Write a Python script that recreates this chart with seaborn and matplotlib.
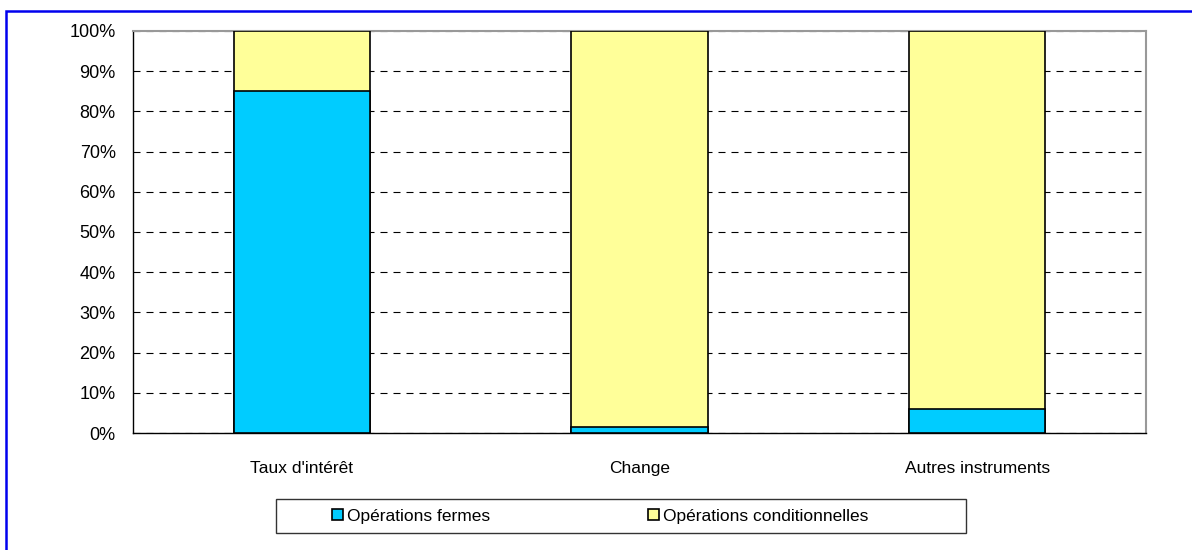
import pandas as pd
import seaborn as sns
import matplotlib.pyplot as plt
from matplotlib.patches import Patch, Rectangle
from matplotlib.ticker import PercentFormatter, MultipleLocator, FixedLocator

# Données (parts en %)
categories = ["Taux d'intérêt", "Change", "Autres instruments"]
fermes = [85, 1.5, 6]
conditionnelles = [15, 98.5, 94]
series = ["Opérations fermes", "Opérations conditionnelles"]
couleurs = ["#00CCFF", "#FFFF99"]

df = pd.DataFrame({"categorie": categories, "fermes": fermes, "conditionnelles": conditionnelles})
df["total"] = df["fermes"] + df["conditionnelles"]

sns.set_style("white")
plt.rcParams['font.family'] = ['Liberation Sans', 'DejaVu Sans']

fig = plt.figure(figsize=(11.92, 5.5), dpi=100)
ax = fig.add_axes([133 / 1192, 1 - 433 / 550, (1146 - 133) / 1192, (433 - 31) / 550])

# Barres empilées : total (jaune) puis la part ferme (bleu) par-dessus
sns.barplot(x="categorie", y="total", data=df, color=couleurs[1], width=0.403,
            edgecolor="black", linewidth=1.2, saturation=1, ax=ax, zorder=3)
sns.barplot(x="categorie", y="fermes", data=df, color=couleurs[0], width=0.403,
            edgecolor="black", linewidth=1.2, saturation=1, ax=ax, zorder=4)

ax.set_xlim(-0.5, 2.5)
ax.set_ylim(0, 100)
ax.set_xlabel("")
ax.set_ylabel("")

# Axe Y
ax.yaxis.set_major_locator(MultipleLocator(10))
ax.yaxis.set_major_formatter(PercentFormatter(decimals=0))
ax.tick_params(axis="y", direction="inout", length=8, width=0.8, color="black",
               labelsize=13, pad=8.5, labelcolor="black")
ax.grid(axis="y", color="black", linestyle=(0, (6.3, 5.4)), linewidth=0.8, zorder=1)

# Axe X : étiquettes au centre, petites graduations aux limites
ax.tick_params(axis="x", which="major", length=0, labelsize=12.5, pad=20, labelcolor="black")
ax.xaxis.set_minor_locator(FixedLocator([-0.5, 0.5, 1.5, 2.5]))
ax.tick_params(axis="x", which="minor", direction="inout", length=9, width=0.8, color="black")

for s in ["left", "bottom"]:
    ax.spines[s].set_color("black")
    ax.spines[s].set_linewidth(1)
for s in ["top", "right"]:
    ax.spines[s].set_visible(True)
    ax.spines[s].set_color("#999999")
    ax.spines[s].set_linewidth(1.5)
ax.set_axisbelow(True)

# Légende
handles = [Patch(facecolor=c, edgecolor="black", linewidth=1.2) for c in couleurs]
leg = fig.legend(handles, series, loc="center", bbox_to_anchor=(600 / 1192, 1 - 516 / 550),
                 ncol=2, frameon=False, fontsize=12.5, handlelength=0.63, handleheight=0.63,
                 handletextpad=0.23, columnspacing=9.1, labelcolor="black")
fig.add_artist(Rectangle((276 / 1192, 1 - 533 / 550), (966 - 276) / 1192, 34 / 550,
                         transform=fig.transFigure, fill=False, edgecolor="#333333", linewidth=1))

# Cadre bleu
fig.add_artist(Rectangle((6 / 1192, -0.05), 1.1, 0.05 + 1 - 11 / 550,
                         transform=fig.transFigure, fill=False, edgecolor="#0000EE", linewidth=1.8))

plt.savefig("out.png", dpi=100)
